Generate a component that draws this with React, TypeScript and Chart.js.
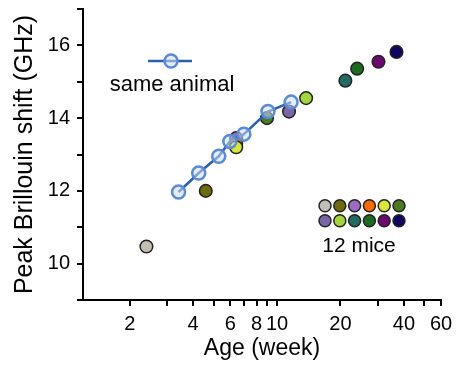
import React, { useEffect, useRef } from "react";
import { Chart, registerables } from "chart.js";

Chart.register(...registerables);

// ---- data ----
const sameAnimalAges = [3.41, 4.25, 5.29, 5.97, 6.96, 9.06, 11.66];
const sameAnimalShift = [11.97, 12.49, 12.95, 13.36, 13.56, 14.18, 14.44];

const mouseAges = [2.4, 4.59, 6.4, 6.4, 6.4, 8.96, 11.4, 13.74, 21.1, 24.0, 30.3, 36.9];
const mouseShift = [10.47, 12.0, 13.45, 13.3, 13.2, 14.0, 14.18, 14.55, 15.03, 15.36, 15.55, 15.82];
const mouseColors = [
  "#c2bfb8", "#6e6a0e", "#9b6cc0", "#ff6a00", "#d8e63a", "#4b7a25",
  "#7b65a8", "#a4d63c", "#226b62", "#1d6a22", "#6a0a6e", "#0e0660",
];

const xTickValues = [2, 3, 4, 5, 6, 7, 8, 9, 10, 20, 30, 40, 50, 60];
const xTickLabels = [2, 4, 6, 8, 10, 20, 40, 60];
const yTickLabels = [10, 12, 14, 16];

const FONT = "'Liberation Sans', Arial, Helvetica, sans-serif";
const LINE_BLUE = "#2b5fae";
const RING_BLUE = "#5b8bd0";
const RING_FILL = "rgba(205,220,242,0.55)";

const annotationPlugin = {
  id: "annotations",
  afterDatasetsDraw(chart: any) {
    const ctx = chart.ctx as CanvasRenderingContext2D;
    ctx.save();
    // "same animal" legend
    ctx.strokeStyle = LINE_BLUE;
    ctx.lineWidth = 2.5;
    ctx.beginPath();
    ctx.moveTo(148, 61);
    ctx.lineTo(192, 61);
    ctx.stroke();
    ctx.beginPath();
    ctx.arc(171, 61, 6.5, 0, Math.PI * 2);
    ctx.fillStyle = RING_FILL;
    ctx.fill();
    ctx.strokeStyle = RING_BLUE;
    ctx.stroke();
    ctx.fillStyle = "#000";
    ctx.font = `22px ${FONT}`;
    ctx.textAlign = "center";
    ctx.textBaseline = "alphabetic";
    ctx.fillText("same animal", 172, 91);

    // 12 mice swatches
    mouseColors.forEach((c, i) => {
      const row = Math.floor(i / 6);
      const col = i % 6;
      ctx.beginPath();
      ctx.arc(325 + col * 14.8, 205.7 + row * 15, 6, 0, Math.PI * 2);
      ctx.fillStyle = c;
      ctx.fill();
      ctx.lineWidth = 1.5;
      ctx.strokeStyle = "#222";
      ctx.stroke();
    });
    ctx.fillStyle = "#000";
    ctx.font = `21px ${FONT}`;
    ctx.fillText("12 mice", 359, 252);
    ctx.restore();
  },
};

export default function App() {
  const ref = useRef<HTMLCanvasElement | null>(null);

  useEffect(() => {
    if (!ref.current) return;
    const chart = new Chart(ref.current, {
      type: "scatter",
      data: {
        datasets: [
          {
            label: "same animal",
            data: sameAnimalAges.map((a, i) => ({ x: a, y: sameAnimalShift[i] })),
            showLine: true,
            borderColor: LINE_BLUE,
            borderWidth: 2.5,
            pointRadius: 6.5,
            pointBorderWidth: 2.5,
            pointBorderColor: RING_BLUE,
            pointBackgroundColor: RING_FILL,
            tension: 0,
          },
          {
            label: "mice",
            data: mouseAges.map((a, i) => ({ x: a, y: mouseShift[i] })),
            pointRadius: 6.3,
            pointBorderWidth: 1.5,
            pointBorderColor: "#222",
            pointBackgroundColor: mouseColors,
            showLine: false,
          },
        ],
      },
      options: {
        animation: false,
        responsive: false,
        devicePixelRatio: 1,
        layout: { padding: { top: 7, right: 16, left: 10, bottom: 0 } },
        plugins: { legend: { display: false }, tooltip: { enabled: false } },
        scales: {
          x: {
            type: "logarithmic",
            min: 1.2,
            max: 60,
            border: { color: "#000", width: 2 },
            grid: { drawOnChartArea: false, drawTicks: true, tickLength: 6, color: "#000", lineWidth: 2 },
            ticks: {
              autoSkip: false,
              maxRotation: 0,
              color: "#000",
              padding: 6,
              font: { size: 20, family: FONT },
              callback: (v: any) => (xTickLabels.includes(Number(v)) ? String(v) : ""),
            },
            title: {
              display: true,
              text: "Age (week)",
              color: "#000",
              font: { size: 23, family: FONT },
              padding: { top: 0, bottom: 4 },
            },
            afterBuildTicks: (scale: any) => {
              scale.ticks = xTickValues.map((v) => ({ value: v }));
            },
            afterFit: (scale: any) => {
              scale.height = 66;
              scale.paddingLeft = 0;
              scale.paddingRight = 0;
            },
          },
          y: {
            min: 9,
            max: 17,
            border: { color: "#000", width: 2 },
            grid: { drawOnChartArea: false, drawTicks: true, tickLength: 6, color: "#000", lineWidth: 2 },
            ticks: {
              stepSize: 1,
              color: "#000",
              padding: 7,
              font: { size: 20, family: FONT },
              callback: (v: any) => (yTickLabels.includes(Number(v)) ? String(v) : ""),
            },
            title: {
              display: true,
              text: "Peak Brillouin shift (GHz)",
              color: "#000",
              font: { size: 25, family: FONT },
              padding: { top: 0, bottom: 0 },
            },
            afterFit: (scale: any) => {
              scale.width = 73;
              scale.paddingTop = 0;
              scale.paddingBottom = 0;
            },
          },
        },
      },
      plugins: [annotationPlugin],
    });
    return () => chart.destroy();
  }, []);

  return (
    <div style={{ position: "fixed", left: 0, top: 0, width: 457, height: 366, background: "#fff" }}>
      <canvas ref={ref} width={457} height={366} style={{ width: 457, height: 366 }} />
    </div>
  );
}
